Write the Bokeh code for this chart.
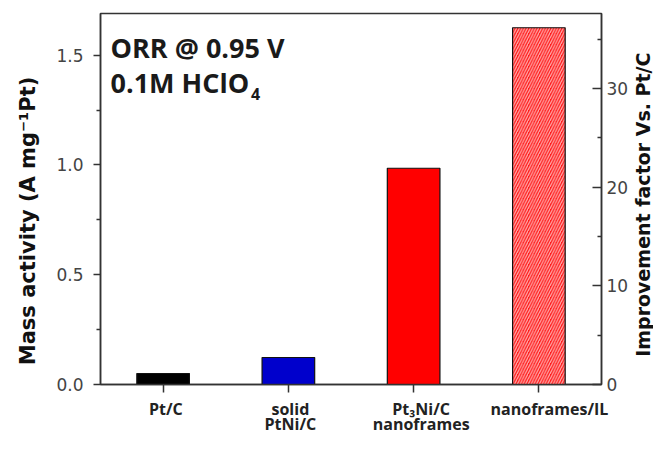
import math
from bokeh.plotting import figure
from bokeh.models import Range1d, LinearAxis, FixedTicker, Label, NumeralTickFormatter
from bokeh.layouts import row, column
from bokeh.core.properties import value
from bokeh.embed import file_html
from bokeh.resources import INLINE

categories = ["Pt/C", "solid\nPtNi/C", "Pt\u2083Ni/C\nnanoframes", "nanoframes/IL"]
positions = [1, 2, 3, 4]
mass_activity = [0.050, 0.123, 0.985, 1.625]
bar_colors = ["#000000", "#0000CC", "#FF0000", "#FF1A1A"]
hatches = [" ", " ", " ", "/"]
left_ticks = [0.0, 0.5, 1.0, 1.5]
right_ticks = [0, 10, 20, 30]
left_title = "Mass activity (A mg\u207b\u00b9Pt)"
right_title = "Improvement factor Vs. Pt/C"

Y_MAX = 1.69
MAIN_W, MAIN_H = 631, 394
FRAME_L, FRAME_R = 100, 603
px_x = 4.0 / (FRAME_R - FRAME_L)
px_y = Y_MAX / 371.0

p = figure(width=MAIN_W, height=MAIN_H, output_backend="svg", toolbar_location=None,
           x_range=Range1d(0.5, 4.5), y_range=Range1d(0, Y_MAX),
           min_border_left=FRAME_L, min_border_right=MAIN_W - FRAME_R,
           min_border_top=13, min_border_bottom=10)
p.extra_y_ranges = {"imp": Range1d(0, 37.6)}

p.vbar(x=positions, top=mass_activity, width=0.42, fill_color=bar_colors,
       line_color="#111111", line_width=1.2, hatch_pattern=hatches,
       hatch_color="white", hatch_scale=5.5, hatch_weight=1.2, hatch_alpha=0.65)

p.xgrid.visible = False
p.ygrid.visible = False
p.outline_line_color = "#333333"
p.outline_line_width = 1.5
p.background_fill_color = "white"
p.border_fill_color = "white"

# bottom axis: ticks only (labels are drawn in the strip below)
xa = p.xaxis[0]
xa.ticker = FixedTicker(ticks=positions)
xa.major_label_overrides = {pos: " " for pos in positions}
xa.major_label_text_font_size = "1px"
xa.major_label_text_alpha = 0
xa.major_label_standoff = 0
xa.major_tick_in = 0
xa.major_tick_out = 8
xa.minor_tick_line_color = None
xa.axis_line_color = "#333333"
xa.axis_line_width = 1.5
xa.major_tick_line_color = "#333333"
xa.major_tick_line_width = 1.5

# left axis
ya = p.yaxis[0]
ya.ticker = FixedTicker(ticks=left_ticks, minor_ticks=[0.25, 0.75, 1.25])
ya.formatter = NumeralTickFormatter(format="0.0")
ya.axis_label = left_title + "\u00a0" * 6
ya.axis_label_text_font = "DejaVu Sans"
ya.axis_label_text_font_style = "bold"
ya.axis_label_text_font_size = "21px"
ya.axis_label_text_color = "#111111"
ya.axis_label_standoff = 13
ya.major_label_text_font = "DejaVu Sans"
ya.major_label_text_font_size = "17px"
ya.major_label_text_color = "#444444"
ya.major_label_standoff = 10
ya.major_tick_in = 0
ya.major_tick_out = 7
ya.minor_tick_in = 0
ya.minor_tick_out = 4
ya.axis_line_color = "#333333"
ya.axis_line_width = 1.5
ya.major_tick_line_color = "#333333"
ya.major_tick_line_width = 1.5
ya.minor_tick_line_color = "#333333"
ya.minor_tick_line_width = 1.5

# right axis
ra = LinearAxis(y_range_name="imp")
ra.ticker = FixedTicker(ticks=right_ticks, minor_ticks=[5, 15, 25, 35])
ra.major_label_text_font = "DejaVu Sans"
ra.major_label_text_font_size = "17px"
ra.major_label_text_color = "#444444"
ra.major_label_standoff = 5
ra.major_tick_in = 9
ra.major_tick_out = 0
ra.minor_tick_in = 4
ra.minor_tick_out = 0
ra.axis_line_color = "#333333"
ra.axis_line_width = 1.5
ra.major_tick_line_color = "#333333"
ra.major_tick_line_width = 1.5
ra.minor_tick_line_color = "#333333"
ra.minor_tick_line_width = 1.5
p.add_layout(ra, "right")

# in-plot annotation
font = "Open Sans"
p.add_layout(Label(x=0.58, y=(384 - 47) * px_y, text="ORR @ 0.95 V", text_font=font,
                   text_font_style="bold", text_font_size="27px", text_color="#1a1a1a",
                   text_baseline="alphabetic"))
p.add_layout(Label(x=0.58, y=(384 - 82) * px_y, text="0.1M HClO", text_font=font,
                   text_font_style="bold", text_font_size="27px", text_color="#1a1a1a",
                   text_baseline="alphabetic"))
p.add_layout(Label(x=0.5 + 151 * px_x, y=(384 - 93) * px_y, text="4", text_font=font,
                   text_font_style="bold", text_font_size="16px", text_color="#1a1a1a",
                   text_baseline="alphabetic"))

# right strip with the right-hand axis title
RS_W = 653 - MAIN_W
pr = figure(width=RS_W, height=MAIN_H, output_backend="svg", toolbar_location=None,
            x_range=Range1d(0, RS_W), y_range=Range1d(0, MAIN_H),
            x_axis_type=None, y_axis_type=None,
            min_border_left=0, min_border_right=0, min_border_top=0, min_border_bottom=0)
pr.outline_line_color = None
pr.xgrid.visible = False
pr.ygrid.visible = False
pr.text(x=[RS_W / 2], y=[MAIN_H - 203], text=[right_title], angle=math.pi / 2,
        text_align="center", text_baseline="middle",
        text_font=value("DejaVu Sans"), text_font_style="bold",
        text_font_size="19px", text_color="#111111")

# bottom strip with the category labels (frame spans the full width)
BS_H = 435 - MAIN_H
pb = figure(width=653, height=BS_H, output_backend="svg", toolbar_location=None,
            x_range=Range1d(0.5 - FRAME_L * px_x, 0.5 + (653 - FRAME_L) * px_x),
            y_range=Range1d(0, BS_H),
            x_axis_type=None, y_axis_type=None,
            min_border_left=0, min_border_right=0, min_border_top=0, min_border_bottom=0)
pb.outline_line_color = None
pb.xgrid.visible = False
pb.ygrid.visible = False
label_shift = [0.02, 0.01, 0.05, 0.07]
lx, ly, lt = [], [], []
for pos, lab, dx in zip(positions, categories, label_shift):
    for k, line in enumerate(lab.split("\n")):
        base = 408 if k == 0 else 423
        lx.append(pos + dx)
        ly.append(435 - base)
        lt.append(line)
pb.text(x=lx, y=ly, text=lt, text_align="center", text_baseline="alphabetic",
        text_font=value("Open Sans"), text_font_style="bold",
        text_font_size="16px", text_color="#222222")

layout = column(row(p, pr), pb)
open("out.html", "w").write(file_html(layout, INLINE))
